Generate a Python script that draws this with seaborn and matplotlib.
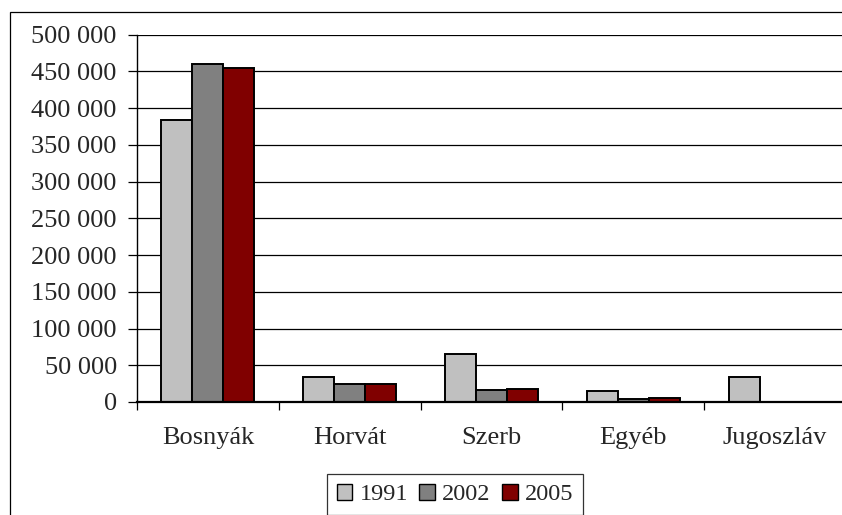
import matplotlib
matplotlib.use("Agg")
import matplotlib.pyplot as plt
import matplotlib.patches as mpatches
from matplotlib.ticker import FuncFormatter, MultipleLocator, FixedLocator
import pandas as pd
import seaborn as sns

# Adatok
nemzetiseg = ['Bosnyák', 'Horvát', 'Szerb', 'Egyéb', 'Jugoszláv']
ev_1991 = [383700, 34000, 65000, 14600, 34000]
ev_2002 = [460400, 25000, 16000, 4600, 0]
ev_2005 = [454100, 25000, 17300, 6000, 0]
evek = ['1991', '2002', '2005']
szinek = ['#C0C0C0', '#808080', '#800000']

df = pd.DataFrame({'nemzetiseg': nemzetiseg, '1991': ev_1991, '2002': ev_2002, '2005': ev_2005})
df_long = df.melt(id_vars='nemzetiseg', var_name='ev', value_name='fo')

sns.set_theme(style="white")
plt.rcParams['font.family'] = ['Liberation Serif', 'DejaVu Serif']

fig = plt.figure(figsize=(8.42, 5.15), dpi=100)
ax = fig.add_axes([137 / 842, 1 - 402 / 515, 709 / 842, (402 - 34.7) / 515])

sns.barplot(data=df_long, x='nemzetiseg', y='fo', hue='ev', hue_order=evek,
            palette=szinek, width=0.655, edgecolor='black', linewidth=1.4,
            saturation=1, ax=ax, legend=False)

ax.set_ylim(0, 500000)
ax.set_xlim(-0.5, 4.5)
ax.yaxis.set_major_locator(MultipleLocator(50000))
ax.yaxis.set_major_formatter(FuncFormatter(lambda v, _: f"{v:,.0f}".replace(",", " ")))
ax.grid(axis='y', color='black', linewidth=0.9)
ax.set_axisbelow(True)
ax.set_xlabel('')
ax.set_ylabel('')

for side in ['top', 'right']:
    ax.spines[side].set_visible(False)
ax.spines['left'].set_color('black')
ax.spines['left'].set_linewidth(1.0)
ax.spines['bottom'].set_color('black')
ax.spines['bottom'].set_linewidth(1.6)

ax.tick_params(axis='y', which='major', direction='out', length=6.5, width=0.9,
               color='black', labelsize=19, pad=8, left=True)
ax.tick_params(axis='x', which='major', length=0, labelsize=19, pad=18)
ax.xaxis.set_minor_locator(FixedLocator([-0.5, 0.5, 1.5, 2.5, 3.5, 4.5]))
ax.tick_params(axis='x', which='minor', direction='out', length=6, width=0.9,
               color='black', bottom=True)

# Jelmagyarázat
kezelok = [mpatches.Patch(facecolor=c, edgecolor='black', linewidth=1.0, label=e)
           for c, e in zip(szinek, evek)]
leg = fig.legend(handles=kezelok, loc='upper center', bbox_to_anchor=(455 / 842, 1 - 474 / 515),
                 ncol=3, fontsize=17.5, frameon=True, fancybox=False, borderpad=0.4,
                 handlelength=0.65, handleheight=0.65, handletextpad=0.3, columnspacing=0.45,
                 borderaxespad=0)
leg.get_frame().set_edgecolor('black')
leg.get_frame().set_linewidth(0.9)

# Külső keret
fig.patches.append(mpatches.Rectangle((10 / 842, -0.1), 1.1, 1 - 12 / 515 + 0.1,
                                      transform=fig.transFigure, fill=False,
                                      edgecolor='black', linewidth=0.9))

fig.savefig('out.png', dpi=100)
